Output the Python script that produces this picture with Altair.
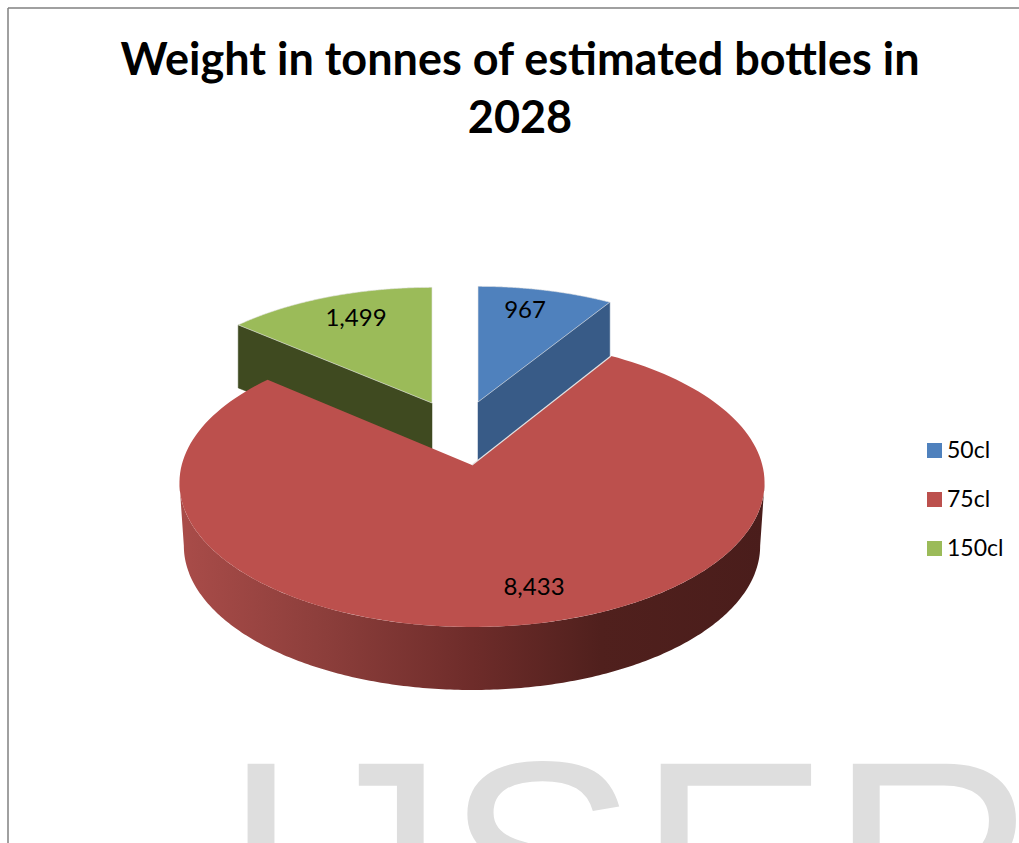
import altair as alt
import numpy as np
import pandas as pd

# Chart content
TITLE_LINES = ["Weight in tonnes of estimated bottles in", "2028"]
SIZES = ["50cl", "75cl", "150cl"]
TONNES = [967, 8433, 1499]
TOP_COLORS = ["#4F81BD", "#BC504D", "#9BBB59"]
BLUE_CUT = "#385B87"
GREEN_CUT = "#3F4A20"
WATERMARK = "IJSER"

# Perspective pie geometry, in pixels
W, H = 1019, 843
APEX = (472, 465)
RX, RY, TILT = 290.3, 142.0, 0.1236
DEPTH = 63
RIM_SHRINK = 0.985
# Screen shift of each slice, and the slightly smaller scale of the pulled-out ones
OFFSETS = {"50cl": (6, -63), "75cl": (0, 0), "150cl": (-40, -62)}
SCALES = {"50cl": (0.948, 0.915), "75cl": (1.0, 1.0), "150cl": (0.948, 0.915)}


def rim(theta, name, shrink=1.0, drop=0):
    """Project pie-plane angles (clockwise from north, radians) to the page."""
    off = OFFSETS[name]
    sx, sy = SCALES[name]
    u, v = np.sin(theta), np.cos(theta)
    d = 1 + TILT * v
    return (APEX[0] + off[0] + sx * shrink * RX * u / d,
            APEX[1] + off[1] + drop - sy * RY * v / d)


def apex(name, drop=0):
    off = OFFSETS[name]
    return APEX[0] + off[0], APEX[1] + off[1] + drop


shares = np.array(TONNES) / sum(TONNES) * 2 * np.pi
ends = np.cumsum(shares)
starts = ends - shares

tops = []
for name, a0, a1 in zip(SIZES, starts, ends):
    th = np.linspace(a0, a1, 160)
    xs_, ys_ = rim(th, name)
    ax, ay = apex(name)
    px = np.r_[ax, xs_, ax]
    py = np.r_[ay, ys_, ay]
    tops.append(pd.DataFrame({"x": px, "y": py, "size": name, "i": range(len(px))}))
tops_df = pd.concat(tops, ignore_index=True)

# Outer wall of the 75cl slice: the visible front half between its two side extremes
side = np.arccos(-TILT)
front = np.linspace(side, 2 * np.pi - side, 240)
wx, wy = rim(front, "75cl")
bx, by = rim(front[::-1], "75cl", RIM_SHRINK, DEPTH)
wall = pd.DataFrame({"x": np.r_[wx, bx], "y": np.r_[wy, by]})
wall["i"] = range(len(wall))

# The inner cut face seen on each pulled-out slice
cuts = []
for name, angle, colour in [("50cl", ends[0], BLUE_CUT), ("150cl", starts[2], GREEN_CUT)]:
    cx, cy = rim(np.array(angle), name)
    ax, ay = apex(name)
    cuts.append(pd.DataFrame({
        "x": [ax, float(cx), float(cx), ax, ax],
        "y": [ay, float(cy), float(cy) + DEPTH, ay + DEPTH, ay],
        "size": name, "colour": colour, "i": range(5)}))
cuts_df = pd.concat(cuts, ignore_index=True)

# Pale highlight along the edge where 75cl meets the blue cut face
ex, ey = rim(np.array(ends[0]), "75cl")
edge_df = pd.DataFrame({"x": [APEX[0], float(ex)], "y": [APEX[1], float(ey)], "i": [0, 1]})

xs = alt.X("x:Q", scale=alt.Scale(domain=[0, W]), axis=None)
ys = alt.Y("y:Q", scale=alt.Scale(domain=[H, 0]), axis=None)
base_font = "Lato"

watermark = alt.Chart(pd.DataFrame({"t": [WATERMARK]})).mark_text(
    font="Liberation Sans", fontSize=288, align="left", baseline="alphabetic", color="#DEDEDE"
).encode(text="t:N", x=alt.value(221), y=alt.value(962))

frame = alt.Chart(pd.DataFrame({"x": [8, 8], "x2": [8, W], "y": [8, 8], "y2": [H, 8]})).mark_rule(
    color="#808080", strokeWidth=1.5
).encode(x=xs, x2="x2:Q", y=ys, y2="y2:Q")

title = alt.Chart(pd.DataFrame({"t": TITLE_LINES, "y": [75, 133]})).mark_text(
    font=base_font, fontWeight="bold", fontSize=45, baseline="alphabetic", color="#000000"
).encode(text="t:N", x=alt.value(520), y=ys)

cut_layer = alt.Chart(cuts_df).mark_line(strokeWidth=0.5, interpolate="linear").encode(
    x=xs, y=ys, order="i:Q", detail="size:N",
    fill=alt.Fill("colour:N", scale=None), stroke=alt.Stroke("colour:N", scale=None),
)

wall_layer = alt.Chart(wall).mark_line(
    strokeWidth=0,
    fill=alt.Gradient(
        gradient="linear", x1=0, x2=1, y1=0, y2=0,
        stops=[
            alt.GradientStop(offset=0.0, color="#A94C49"),
            alt.GradientStop(offset=0.25, color="#8C3E3B"),
            alt.GradientStop(offset=0.5, color="#6E2C2A"),
            alt.GradientStop(offset=0.72, color="#50201D"),
            alt.GradientStop(offset=1.0, color="#4A1D1B"),
        ],
    ),
).encode(x=xs, y=ys, order="i:Q")

colour_scale = alt.Scale(domain=SIZES, range=TOP_COLORS)


def top_layer(names, legend, stroke_opacity):
    return alt.Chart(tops_df[tops_df["size"].isin(names)]).mark_line(
        stroke="#E4E4E4", strokeWidth=1, strokeOpacity=stroke_opacity, interpolate="linear"
    ).encode(
        x=xs, y=ys, order="i:Q",
        fill=alt.Fill("size:N", scale=colour_scale, sort=SIZES, legend=legend),
    )


slice_legend = alt.Legend(
    orient="none", legendX=923, legendY=439, title=None, symbolType="square", symbolSize=225,
    symbolStrokeWidth=0, labelFont=base_font, labelFontSize=23, labelColor="#000000",
    labelOffset=1, rowPadding=25, labelLimit=100,
)

edge_layer = alt.Chart(edge_df).mark_line(color="#E4E4E4", strokeWidth=1.2).encode(
    x=xs, y=ys, order="i:Q"
)

label_df = pd.DataFrame({"v": TONNES, "x": [525, 534, 356], "y": [318, 595, 326]})
labels = alt.Chart(label_df).mark_text(
    font=base_font, fontSize=24, baseline="alphabetic", color="#000000"
).encode(text=alt.Text("v:Q", format=","), x=xs, y=ys)

chart = alt.layer(
    watermark, frame, title, cut_layer,
    top_layer(["50cl", "150cl"], slice_legend, 0.6),
    wall_layer,
    top_layer(["75cl"], None, 0),
    edge_layer,
    labels,
).resolve_scale(fill="independent").properties(
    width=W, height=H, background="#FFFFFF", padding=0,
    autosize=alt.AutoSizeParams(type="none", contains="padding"),
).configure_view(stroke=None)

chart.save("out.html", embed_options={"renderer": "svg", "actions": False})
